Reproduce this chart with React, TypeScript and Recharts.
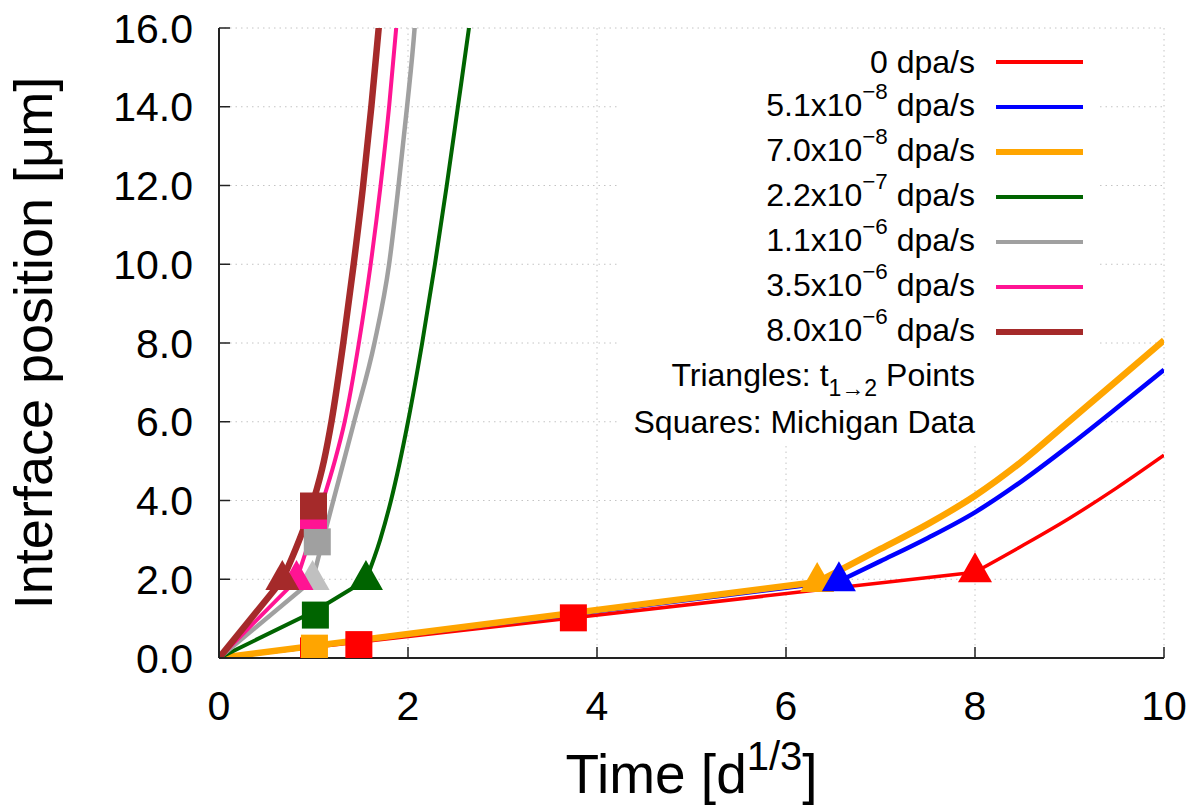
import React from 'react';
import { ComposedChart, Line, Scatter, XAxis, YAxis, CartesianGrid, Legend } from 'recharts';

// ---------- data ----------
const rateMantissas = ['0', '5.1x10', '7.0x10', '2.2x10', '1.1x10', '3.5x10', '8.0x10'];
const rateExponents = ['', '−8', '−8', '−7', '−6', '−6', '−6'];
const seriesColors = ['#ff0000', '#0000ff', '#ffa500', '#006400', '#a0a0a0', '#ff1493', '#a52a2a'];
const triangleColors = ['#ff0000', '#0000ff', '#ffa500', '#006400', '#c0c0c0', '#ff1493', '#a52a2a'];
const lineWidths = [3.5, 4.5, 6.5, 4, 4.5, 4, 6.5];

// stage-1 (straight) segments: [t^(1/3), position]
const redEarly = [[0, 0], [8.0, 2.18]];
const blueEarly = [[0, 0], [6.56, 1.95]];
const orangeEarly = [[0, 0], [6.33, 1.93]];
const greenEarly = [[0, 0], [1.02, 1.2], [1.555, 1.98]];
const greyEarly = [[0, 0], [0.99, 1.98]];
const pinkEarly = [[0, 0], [0.82, 1.98]];
const brownEarly = [[0, 0], [0.67, 1.98]];

// stage-2 (accelerated) segments
const redLate = [[8.0, 2.18], [8.5, 2.85], [9.0, 3.55], [9.5, 4.32], [10.0, 5.15]];
const blueLate = [[6.56, 1.95], [7.0, 2.46], [7.5, 3.05], [8.0, 3.7], [8.5, 4.5], [9.0, 5.4], [9.5, 6.35], [10.0, 7.32]];
const orangeLate = [[6.33, 1.93], [7.0, 2.77], [7.5, 3.4], [8.0, 4.12], [8.5, 5.0], [9.0, 6.02], [9.5, 7.04], [10.0, 8.07]];
const greenLate = [[1.555, 1.98], [1.705, 3], [1.82, 4], [2.0, 6], [2.15, 8], [2.285, 10], [2.41, 12], [2.528, 14], [2.645, 16], [2.7, 17]];
const greyLate = [[0.99, 1.98], [1.1, 3], [1.21, 4], [1.43, 6], [1.645, 8], [1.8, 10], [1.9, 12], [1.99, 14], [2.07, 16], [2.1, 17]];
const pinkLate = [[0.82, 1.98], [0.96, 3], [1.1, 4], [1.225, 5], [1.33, 6], [1.48, 8], [1.605, 10], [1.71, 12], [1.8, 14], [1.875, 16], [1.91, 17]];
const brownLate = [[0.67, 1.98], [0.85, 3], [1.0, 4], [1.11, 5], [1.19, 6], [1.315, 8], [1.425, 10], [1.525, 12], [1.612, 14], [1.69, 16], [1.73, 17]];

const earlySegments = [redEarly, blueEarly, orangeEarly, greenEarly, greyEarly, pinkEarly, brownEarly];
const lateSegments = [redLate, blueLate, orangeLate, greenLate, greyLate, pinkLate, brownLate];

// t(1->2) transition points (triangles), per series
const triangleT = [8.0, 6.56, 6.33, 1.555, 0.99, 0.82, 0.67];
const triangleY = [2.18, 1.95, 1.93, 1.98, 1.98, 1.98, 1.98];
const triangleDrawOrder = [4, 5, 6, 3, 2, 1, 0];

// Michigan data (squares)
const squareSeries = [0, 0, 0, 2, 3, 4, 5, 6];
const squareT = [1.0, 1.48, 3.75, 1.01, 1.02, 1.04, 1.0, 1.0];
const squareY = [0.18, 0.34, 1.02, 0.25, 1.09, 2.95, 3.62, 3.86];

const xTicks = [0, 2, 4, 6, 8, 10];
const yTicks = [0, 2, 4, 6, 8, 10, 12, 14, 16];

// ---------- derived ----------
const toPts = (arr) => arr.map(([x, y]) => ({ x, y }));
const triangleData = triangleDrawOrder.map((i) => ({ x: triangleT[i], y: triangleY[i], s: i }));
const squareData = squareT.map((t, i) => ({ x: t, y: squareY[i], s: squareSeries[i] }));

const FONT = '"Liberation Sans", Arial, Helvetica, sans-serif';
const GRID = { stroke: '#c4c4c4', strokeWidth: 1, strokeDasharray: '1.5 4' };
const KEY_BOX = { left: 620, right: 1100, top: 40, bottom: 446 };

const TriangleShape = (props) => {
  const { cx, cy, payload } = props;
  if (cx == null || cy == null) return null;
  const w = 34;
  const h = 30;
  const pts = `${cx},${cy - (2 * h) / 3} ${cx - w / 2},${cy + h / 3} ${cx + w / 2},${cy + h / 3}`;
  return <polygon points={pts} fill={triangleColors[payload.s]} />;
};

const SquareShape = (props) => {
  const { cx, cy, payload } = props;
  if (cx == null || cy == null) return null;
  const s = 27;
  return <rect x={cx - s / 2} y={cy - s / 2} width={s} height={s} fill={seriesColors[payload.s]} />;
};

const gridHorizontal = (p) => {
  const { x1, x2, y1 } = p;
  if (y1 > KEY_BOX.top && y1 < KEY_BOX.bottom) {
    return (
      <g key={`h-${y1}`}>
        <line x1={x1} x2={KEY_BOX.left} y1={y1} y2={y1} {...GRID} />
        <line x1={KEY_BOX.right} x2={x2} y1={y1} y2={y1} {...GRID} />
      </g>
    );
  }
  return <line key={`h-${y1}`} x1={x1} x2={x2} y1={y1} y2={y1} {...GRID} />;
};

const gridVertical = (p) => {
  const { x1, y1, y2 } = p;
  if (x1 > KEY_BOX.left && x1 < KEY_BOX.right) {
    return <line key={`v-${x1}`} x1={x1} x2={x1} y1={Math.max(y1, KEY_BOX.bottom)} y2={y2} {...GRID} />;
  }
  return <line key={`v-${x1}`} x1={x1} x2={x1} y1={y1} y2={y2} {...GRID} />;
};

const KeyContent = () => {
  const rowStyle = {
    height: 45,
    lineHeight: '45px',
    display: 'flex',
    justifyContent: 'flex-end',
    alignItems: 'center',
    whiteSpace: 'nowrap',
  };
  const sup = { fontSize: '0.7em', position: 'relative', top: '-0.78em' };
  const sub = { fontSize: '0.72em', position: 'relative', top: '0.45em' };
  return (
    <div style={{ fontFamily: FONT, fontSize: 32, color: '#000' }}>
      {rateMantissas.map((m, i) => (
        <div key={i} style={rowStyle}>
          <span>
            {m}
            {rateExponents[i] ? <span style={sup}>{rateExponents[i]}</span> : null} dpa/s
          </span>
          <span
            style={{
              display: 'inline-block',
              width: 87,
              marginLeft: 21,
              height: lineWidths[i],
              background: seriesColors[i],
            }}
          />
        </div>
      ))}
      <div style={{ ...rowStyle, paddingRight: 108 }}>
        <span>
          Triangles: t<span style={sub}>1→2</span> Points
        </span>
      </div>
      <div style={{ ...rowStyle, paddingRight: 108 }}>
        <span>Squares: Michigan Data</span>
      </div>
    </div>
  );
};

const XTitle = (props) => {
  const { x, y, width } = props.viewBox;
  return (
    <text x={x + width / 2} y={y + 135} textAnchor="middle" fontSize={55} fontFamily={FONT} fill="#000">
      Time [d
      <tspan dy={-23} fontSize={40}>1/3</tspan>
      <tspan dy={23} fontSize={55}>]</tspan>
    </text>
  );
};

const YTitle = (props) => {
  const { x, y, height } = props.viewBox;
  const cx = x + 52;
  const cy = y + height / 2;
  return (
    <text
      x={cx}
      y={cy}
      transform={`rotate(-90, ${cx}, ${cy})`}
      textAnchor="middle"
      fontSize={54}
      fontFamily={FONT}
      fill="#000"
    >
      Interface position [μm]
    </text>
  );
};

const axisLine = { stroke: '#222', strokeWidth: 2 };
const tickLine = { stroke: '#222', strokeWidth: 1.5 };
const tickFont = { fontSize: 41, fill: '#000', fontFamily: FONT };

export default function App() {
  return (
    <div style={{ position: 'absolute', left: 0, top: 0, width: 1195, height: 807, background: '#fff' }}>
      <ComposedChart
        width={1195}
        height={807}
        margin={{ top: 28, right: 31, bottom: 0, left: 0 }}
        style={{ fontFamily: FONT }}
      >
        <CartesianGrid horizontal={gridHorizontal} vertical={gridVertical} />
        <XAxis
          xAxisId={0}
          dataKey="x"
          type="number"
          domain={[0, 10]}
          ticks={xTicks}
          interval={0}
          allowDataOverflow
          height={149}
          axisLine={axisLine}
          tickLine={tickLine}
          tickSize={-11}
          tickMargin={44}
          tick={tickFont}
          label={{ content: (p) => <XTitle {...p} /> }}
        />
        <XAxis
          xAxisId="top"
          orientation="top"
          type="number"
          domain={[0, 10]}
          ticks={xTicks}
          interval={0}
          allowDataOverflow
          height={0}
          mirror
          tick={false}
          tickSize={11}
          axisLine={axisLine}
          tickLine={tickLine}
        />
        <YAxis
          yAxisId={0}
          dataKey="y"
          type="number"
          domain={[0, 16]}
          ticks={yTicks}
          interval={0}
          allowDataOverflow
          width={219}
          axisLine={axisLine}
          tickLine={tickLine}
          tickSize={-11}
          tickMargin={37}
          tick={tickFont}
          tickFormatter={(v) => Number(v).toFixed(1)}
          label={{ content: (p) => <YTitle {...p} /> }}
        />
        <YAxis
          yAxisId="right"
          orientation="right"
          type="number"
          domain={[0, 16]}
          ticks={yTicks}
          interval={0}
          allowDataOverflow
          width={0}
          mirror
          tick={false}
          tickSize={11}
          axisLine={axisLine}
          tickLine={tickLine}
        />
        <Legend
          layout="vertical"
          align="center"
          verticalAlign="middle"
          content={() => <KeyContent />}
          wrapperStyle={{ left: 0, top: 39.5, width: 1083, height: 405 }}
        />
        {earlySegments.map((seg, i) => [
          <Line
            key={`e${i}`}
            data={toPts(seg)}
            dataKey="y"
            type="linear"
            stroke={seriesColors[i]}
            strokeWidth={lineWidths[i]}
            dot={false}
            activeDot={false}
            isAnimationActive={false}
            legendType="none"
          />,
          <Line
            key={`l${i}`}
            data={toPts(lateSegments[i])}
            dataKey="y"
            type="monotone"
            stroke={seriesColors[i]}
            strokeWidth={lineWidths[i]}
            dot={false}
            activeDot={false}
            isAnimationActive={false}
            legendType="none"
          />,
        ])}
        <Scatter data={triangleData} shape={TriangleShape} isAnimationActive={false} legendType="none" />
        <Scatter data={squareData} shape={SquareShape} isAnimationActive={false} legendType="none" />
      </ComposedChart>
    </div>
  );
}
